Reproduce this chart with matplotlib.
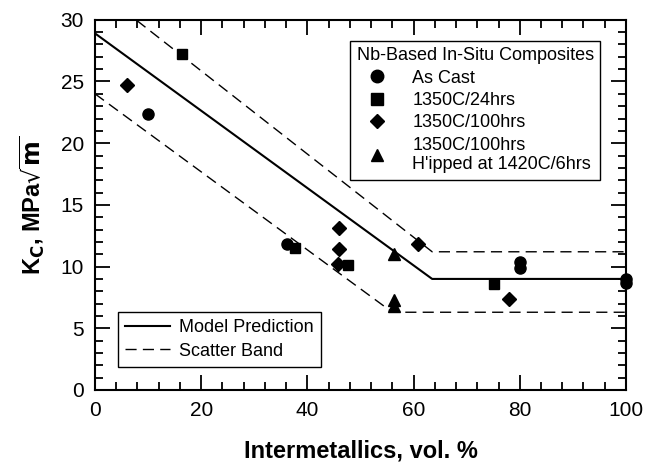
import matplotlib.pyplot as plt
from matplotlib.ticker import MultipleLocator
from matplotlib.lines import Line2D

plt.rcParams['font.family'] = ['Liberation Sans', 'DejaVu Sans']

# model prediction and scatter band (knee points)
model_x = [0, 63.5, 100]
model_y = [28.9, 9.0, 9.0]
upper_x = [0, 63.5, 100]
upper_y = [32.6, 11.2, 11.2]
lower_x = [0, 56, 100]
lower_y = [24.0, 6.3, 6.3]

# measured data
cast_x = [10, 36.2, 80, 80, 100, 100]
cast_y = [22.4, 11.8, 10.4, 9.9, 9.0, 8.7]
h24_x = [16.4, 37.7, 47.7, 75.2]
h24_y = [27.2, 11.5, 10.1, 8.6]
h100_x = [6.0, 45.9, 46.0, 45.8, 60.9, 78.0]
h100_y = [24.7, 13.1, 11.4, 10.2, 11.8, 7.4]
hip_x = [56.4, 56.4, 56.4]
hip_y = [11.0, 7.3, 6.8]

fig = plt.figure(figsize=(6.46, 4.71), dpi=100)
ax = fig.add_axes([0.147, 0.172, 0.822, 0.786])

ax.plot(model_x, model_y, color='black', lw=1.5)
ax.plot(upper_x, upper_y, color='black', lw=1.0, dashes=(8, 4.5))
ax.plot(lower_x, lower_y, color='black', lw=1.0, dashes=(8, 4.5))

ax.plot(cast_x, cast_y, 'o', color='black', ms=8, clip_on=False)
ax.plot(h24_x, h24_y, 's', color='black', ms=7.5)
ax.plot(h100_x, h100_y, 'D', color='black', ms=7)
ax.plot(hip_x, hip_y, '^', color='black', ms=8.5)

ax.set_xlim(0, 100)
ax.set_ylim(0, 30)
ax.xaxis.set_major_locator(MultipleLocator(20))
ax.xaxis.set_minor_locator(MultipleLocator(4))
ax.yaxis.set_major_locator(MultipleLocator(5))
ax.yaxis.set_minor_locator(MultipleLocator(1))
ax.tick_params(which='both', direction='in', top=True, right=True, width=1.3)
ax.tick_params(which='major', length=11, labelsize=15, pad=8)
ax.tick_params(which='minor', length=6)
for s in ax.spines.values():
    s.set_linewidth(1.5)

ax.set_xlabel('Intermetallics, vol. %', fontsize=17, fontweight='bold', labelpad=14)
ax.set_ylabel(r'K$_\mathbf{C}$, MPa$\sqrt{\mathbf{m}}$', fontsize=17, fontweight='bold', labelpad=10)

# symbol legend
sym = [Line2D([], [], ls='none', marker=m, color='black', ms=s)
       for m, s in [('o', 9), ('s', 8), ('D', 7.5), ('^', 9)]]
leg1 = ax.legend(sym, ['As Cast', '1350C/24hrs', '1350C/100hrs',
                       "1350C/100hrs\nH'ipped at 1420C/6hrs"],
                 title='Nb-Based In-Situ Composites', title_fontsize=13,
                 fontsize=13, loc='upper right', bbox_to_anchor=(0.951, 0.943),
                 borderaxespad=0, fancybox=False, edgecolor='black', framealpha=1,
                 labelspacing=0.3, handlelength=2.3, handletextpad=0.8,
                 borderpad=0.35, alignment='left')
leg1.get_frame().set_linewidth(1.0)
ax.add_artist(leg1)

lines = [Line2D([], [], color='black', lw=1.5),
         Line2D([], [], color='black', lw=1.0, dashes=(8, 4.5))]
leg2 = ax.legend(lines, ['Model Prediction', 'Scatter Band'], fontsize=13,
                 loc='lower left', bbox_to_anchor=(0.043, 0.062),
                 borderaxespad=0, fancybox=False, edgecolor='black', framealpha=1,
                 handlelength=2.5, handletextpad=0.5, labelspacing=0.35,
                 borderpad=0.4)
leg2.get_frame().set_linewidth(1.0)

fig.savefig('out.png', dpi=100)
